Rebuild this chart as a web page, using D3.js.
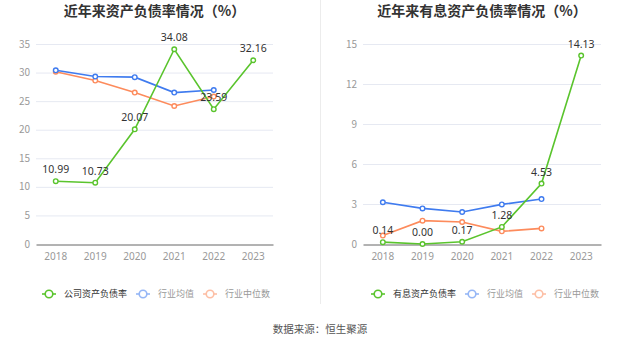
<!DOCTYPE html>
<html><head><meta charset="utf-8">
<script src="https://cdn.jsdelivr.net/npm/d3@7"></script>
<style>
body{margin:0;background:#fff;font-family:"Noto Sans CJK SC","Noto Sans",sans-serif;}
svg{display:block}
</style></head><body>
<svg id="c" width="637" height="344"></svg>
<script>
const years = ["2018","2019","2020","2021","2022","2023"];
// left chart
const leftTitle = "近年来资产负债率情况（%）";
const leftCompany = [10.99, 10.73, 20.07, 34.08, 23.59, 32.16];
const leftAvg = [30.4, 29.3, 29.2, 26.5, 26.95];
const leftMedian = [30.15, 28.6, 26.5, 24.15, 25.8];
const leftTicks = [0,5,10,15,20,25,30,35];
const leftNames = ["公司资产负债率","行业均值","行业中位数"];
// right chart
const rightTitle = "近年来有息资产负债率情况（%）";
const rightCompany = [0.14, 0.00, 0.17, 1.28, 4.53, 14.13];
const rightAvg = [3.13, 2.67, 2.4, 2.97, 3.37];
const rightMedian = [0.63, 1.75, 1.65, 0.95, 1.17];
const rightTicks = [0,3,6,9,12,15];
const rightNames = ["有息资产负债率","行业均值","行业中位数"];
const source = "数据来源：恒生聚源";

const colors = {company:"#5ac42d", avg:"#3f7bef", median:"#fd8b5c"};
const svg = d3.select("#c");

function drawChart(cfg){
  const g = svg.append("g");
  const x = d3.scaleBand().domain(years).range([cfg.x0, cfg.x1]);
  const y = d3.scaleLinear().domain([0, cfg.max]).range([244, 44]);
  const cx = d => x(d) + x.bandwidth()/2;

  g.append("text").attr("x",(cfg.x0+cfg.x1)/2).attr("y",16).attr("text-anchor","middle")
    .attr("font-size",14).attr("font-weight","bold").attr("fill","#333").text(cfg.title);

  // grid
  g.selectAll(".grid").data(cfg.ticks.filter(t=>t>0)).join("line")
    .attr("x1",cfg.x0).attr("x2",cfg.x1).attr("y1",d=>y(d)+0.5).attr("y2",d=>y(d)+0.5)
    .attr("stroke","#e6e9f2").attr("stroke-width",1);
  g.selectAll(".yl").data(cfg.ticks).join("text")
    .attr("x",cfg.x0-6).attr("y",d=>y(d)).attr("dy","0.35em").attr("text-anchor","end")
    .attr("font-size",10).attr("fill","#999").text(d=>d);
  // x axis
  const xa = g.append("g").attr("transform",`translate(0,${y(0)+0.5})`)
    .call(d3.axisBottom(x).tickSize(0).tickPadding(8));
  xa.select(".domain").attr("stroke","#666");
  xa.selectAll("text").attr("font-size",10).attr("fill","#999").attr("font-family","Noto Sans, sans-serif");

  const line = d3.line().x((d,i)=>cx(years[i])).y(d=>y(d));
  const series = [
    {v:cfg.median,c:colors.median},
    {v:cfg.avg,c:colors.avg},
    {v:cfg.company,c:colors.company}
  ];
  series.forEach(s=>{
    g.append("path").datum(s.v).attr("d",line).attr("fill","none")
      .attr("stroke",s.c).attr("stroke-width",1.6);
    g.selectAll(null).data(s.v).join("circle")
      .attr("cx",(d,i)=>cx(years[i])).attr("cy",d=>y(d)).attr("r",2.3)
      .attr("fill","#fff").attr("stroke",s.c).attr("stroke-width",1.4);
  });
  g.selectAll(".lbl").data(cfg.company).join("text")
    .attr("x",(d,i)=>cx(years[i])).attr("y",d=>y(d)-8).attr("text-anchor","middle")
    .attr("font-size",10.5).attr("fill","#333").attr("font-family","Noto Sans, sans-serif")
    .text(d=>d.toFixed(2));

  // legend
  const lg = g.append("g");
  let lx = cfg.legendX;
  const ly = 294;
  const items = [
    {n:cfg.names[0],c:colors.company,op:1,tc:"#333"},
    {n:cfg.names[1],c:colors.avg,op:0.55,tc:"#999"},
    {n:cfg.names[2],c:colors.median,op:0.55,tc:"#999"}
  ];
  items.forEach(it=>{
    const ig = lg.append("g").attr("opacity",it.op);
    ig.append("line").attr("x1",lx).attr("x2",lx+14).attr("y1",ly).attr("y2",ly)
      .attr("stroke",it.c).attr("stroke-width",1.6);
    ig.append("circle").attr("cx",lx+7).attr("cy",ly).attr("r",3.8)
      .attr("fill","#fff").attr("stroke",it.c).attr("stroke-width",1.6);
    const t = lg.append("text").attr("x",lx+22).attr("y",ly).attr("dy","0.35em")
      .attr("font-size",9).attr("fill",it.tc).text(it.n);
    lx += 22 + t.node().getComputedTextLength() + 9;
  });
}

drawChart({x0:36,x1:273,max:35,ticks:leftTicks,title:leftTitle,company:leftCompany,avg:leftAvg,median:leftMedian,names:leftNames,legendX:42});
drawChart({x0:363,x1:601,max:15,ticks:rightTicks,title:rightTitle,company:rightCompany,avg:rightAvg,median:rightMedian,names:rightNames,legendX:371});

svg.append("line").attr("x1",320.5).attr("x2",320.5).attr("y1",0).attr("y2",304)
  .attr("stroke","#ececec").attr("stroke-width",1);
svg.append("text").attr("x",320).attr("y",329).attr("dy","0.35em").attr("text-anchor","middle")
  .attr("font-size",10.5).attr("fill","#555").text(source);
</script>
</body></html>
